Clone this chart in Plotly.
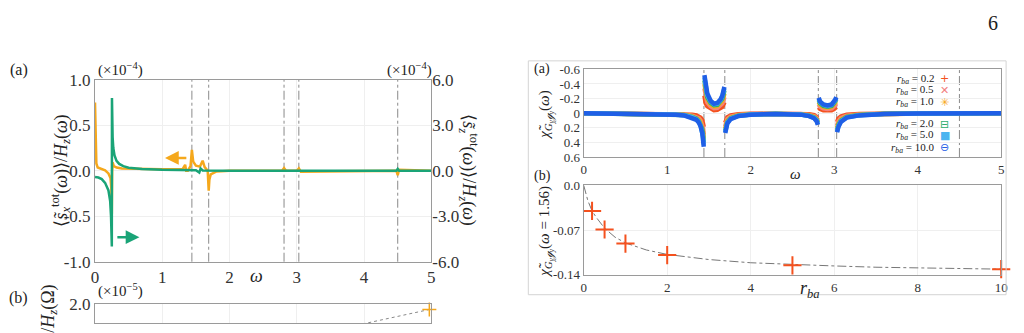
import plotly.graph_objects as go

# ---------------- data ----------------
# Left panel (a): spin response, left axis (x1e-4)
omega_orange = [0, 0.005, 0.01, 0.02, 0.04, 0.08, 0.15, 0.2, 0.23, 0.243, 0.25, 0.255, 0.262, 0.28,
                0.32, 0.4, 0.6, 1.0, 1.3, 1.34, 1.355, 1.38, 1.42, 1.44, 1.46, 1.5, 1.56, 1.6, 1.63,
                1.675, 1.69, 1.70, 1.72, 1.8, 2.0, 2.78, 2.81, 2.84, 3.0, 3.03, 3.06, 4.48, 4.5, 4.52, 5.0]
sx_orange = [0.75, 0.5, 0.25, 0.08, 0.035, 0.025, 0.005, -0.03, -0.08, -0.2, -0.48, 0.0, 0.09, 0.05,
             0.035, 0.025, 0.02, 0.015, 0.015, 0.065, 0.0, 0.0, 0.05, 0.23, 0.1, 0.055, 0.045, 0.11,
             0.04, 0.0, -0.22, -0.1, -0.04, -0.01, 0.0, 0.0, 0.03, 0.0, 0.0, 0.025, -0.01, 0.0, -0.05, 0.01, 0.0]
# right axis (x1e-4)
omega_green = [0, 0.05, 0.1, 0.15, 0.2, 0.225, 0.238, 0.245, 0.25, 0.252, 0.256, 0.262, 0.272, 0.29,
               0.32, 0.36, 0.42, 0.5, 0.7, 1.0, 1.5, 1.55, 1.57, 1.6, 2.0, 4.48, 4.5, 4.52, 5.0]
sz_green = [-0.42, -0.45, -0.55, -0.8, -1.3, -2.0, -3.0, -4.0, -5.0, 4.8, 3.2, 2.2, 1.5, 1.0,
            0.65, 0.45, 0.3, 0.2, 0.12, 0.06, 0.03, -0.12, 0.15, 0.02, 0.0, 0.0, 0.12, 0.0, 0.0]
resonances = [1.44, 1.69, 2.81, 3.03, 4.5]

# Left panel (b): only the top edge is visible
omega_b = [3.8, 4.2, 4.6, 4.97]
val_b = [1.50, 1.63, 1.76, 1.88]

# Right panel (a): chi(omega) for several r_ba
omega_r = [0, 0.2, 0.4, 0.6, 0.8, 1.0, 1.1, 1.2, 1.3, 1.35, 1.38, 1.40, 1.42, 1.43, 1.438, None,
           1.446, 1.46, 1.48, 1.52, 1.56, 1.60, 1.64, 1.66, 1.675, 1.685, None,
           1.695, 1.705, 1.72, 1.76, 1.85, 2.0, 2.3, 2.6, 2.7, 2.76, 2.79, 2.805, None,
           2.815, 2.83, 2.87, 2.92, 2.97, 3.0, 3.015, 3.025, None,
           3.035, 3.05, 3.08, 3.15, 3.3, 3.6, 4.0, 4.5, 5.0]
chi_r02 = [0, 0.001, 0.001, 0.002, 0.003, 0.005, 0.007, 0.01, 0.02, 0.03, 0.043, 0.062, 0.095, 0.13, 0.19, None,
           -0.24, -0.14, -0.095, -0.058, -0.04, -0.045, -0.065, -0.085, -0.12, -0.15, None,
           0.13, 0.085, 0.055, 0.03, 0.015, 0.007, 0.004, 0.007, 0.015, 0.026, 0.042, 0.065, None,
           -0.08, -0.058, -0.042, -0.036, -0.042, -0.058, -0.072, -0.085, None,
           0.12, 0.075, 0.045, 0.022, 0.011, 0.004, 0.002, 0.001, 0]
chi_r05 = [0, 0.001, 0.002, 0.003, 0.005, 0.008, 0.011, 0.017, 0.034, 0.05, 0.07, 0.1, 0.15, 0.21, 0.29, None,
           -0.34, -0.22, -0.15, -0.095, -0.069, -0.074, -0.105, -0.135, -0.18, -0.22, None,
           0.18, 0.12, 0.08, 0.046, 0.023, 0.011, 0.006, 0.011, 0.023, 0.04, 0.065, 0.095, None,
           -0.12, -0.09, -0.066, -0.057, -0.066, -0.09, -0.11, -0.13, None,
           0.17, 0.11, 0.068, 0.034, 0.017, 0.006, 0.003, 0.001, 0]
chi_r10 = [0, 0.001, 0.003, 0.004, 0.007, 0.01, 0.014, 0.021, 0.042, 0.063, 0.09, 0.13, 0.19, 0.26, 0.35, None,
           -0.40, -0.27, -0.19, -0.12, -0.091, -0.097, -0.135, -0.17, -0.22, -0.27, None,
           0.21, 0.15, 0.1, 0.058, 0.029, 0.014, 0.007, 0.014, 0.029, 0.05, 0.08, 0.115, None,
           -0.15, -0.115, -0.085, -0.074, -0.085, -0.115, -0.14, -0.16, None,
           0.2, 0.14, 0.085, 0.043, 0.021, 0.007, 0.003, 0.001, 0]
chi_r20 = [0, 0.002, 0.003, 0.005, 0.008, 0.012, 0.017, 0.025, 0.05, 0.075, 0.11, 0.15, 0.22, 0.3, 0.4, None,
           -0.45, -0.31, -0.22, -0.14, -0.109, -0.115, -0.16, -0.2, -0.26, -0.31, None,
           0.24, 0.17, 0.12, 0.068, 0.034, 0.017, 0.009, 0.017, 0.034, 0.06, 0.09, 0.13, None,
           -0.18, -0.135, -0.1, -0.088, -0.1, -0.135, -0.165, -0.19, None,
           0.23, 0.16, 0.1, 0.05, 0.025, 0.009, 0.004, 0.002, 0]
chi_r50 = [0, 0.002, 0.004, 0.006, 0.009, 0.014, 0.019, 0.028, 0.055, 0.085, 0.12, 0.17, 0.25, 0.33, 0.43, None,
           -0.49, -0.35, -0.25, -0.16, -0.125, -0.13, -0.18, -0.23, -0.29, -0.34, None,
           0.26, 0.19, 0.13, 0.075, 0.038, 0.019, 0.01, 0.019, 0.038, 0.066, 0.1, 0.15, None,
           -0.2, -0.15, -0.115, -0.1, -0.115, -0.15, -0.18, -0.21, None,
           0.25, 0.18, 0.11, 0.057, 0.028, 0.01, 0.005, 0.002, 0]
chi_r100 = [0, 0.002, 0.004, 0.006, 0.01, 0.015, 0.02, 0.03, 0.06, 0.09, 0.13, 0.18, 0.27, 0.35, 0.46, None,
            -0.52, -0.37, -0.27, -0.17, -0.13, -0.14, -0.19, -0.24, -0.30, -0.36, None,
            0.27, 0.2, 0.14, 0.08, 0.04, 0.02, 0.01, 0.02, 0.04, 0.07, 0.11, 0.16, None,
            -0.21, -0.16, -0.12, -0.105, -0.12, -0.16, -0.19, -0.22, None,
            0.26, 0.19, 0.12, 0.06, 0.03, 0.01, 0.005, 0.002, 0]
r_labels = ["0.2", "0.5", "1.0", "2.0", "5.0", "10.0"]

# Right panel (b)
r_ba = [0.2, 0.5, 1.0, 2.0, 5.0, 10.0]
chi_156 = [-0.040, -0.069, -0.091, -0.109, -0.125, -0.131]
r_fit = [0, 0.05, 0.1, 0.2, 0.3, 0.5, 0.75, 1.0, 1.5, 2.0, 3.0, 4.0, 5.0, 6.0, 7.0, 8.0, 9.0, 10.0]
chi_fit = [0, -0.014, -0.024, -0.040, -0.050, -0.067, -0.081, -0.090, -0.101, -0.108, -0.116,
           -0.121, -0.124, -0.126, -0.128, -0.129, -0.130, -0.131]

# ---------------- styling ----------------
W, H = 1024, 333
SERIF = "Liberation Serif"
ORANGE = "#F5A81C"
GREEN = "#1AA477"
series_colors = ["#F4511E", "#F28080", "#F7A823", "#2EAE6E", "#4CB5F0", "#1F5FE6"]
legend_glyphs = ["+", "✕", "✳", "⊟", "■", "⊖"]
GRID = "#efefef"
AXLINE = "#9a9a9a"


def px(x, y):
    return x / W, 1 - y / H


fig = go.Figure()

# Left (a)
fig.add_trace(go.Scatter(x=omega_orange, y=sx_orange, mode="lines", line=dict(color=ORANGE, width=2.5),
                         xaxis="x", yaxis="y", showlegend=False))
fig.add_trace(go.Scatter(x=omega_green, y=sz_green, mode="lines", line=dict(color=GREEN, width=2.5),
                         xaxis="x", yaxis="y2", showlegend=False))
# Left (b)
fig.add_trace(go.Scatter(x=omega_b, y=val_b, mode="lines", line=dict(color="#888", width=1, dash="dot"),
                         xaxis="x2", yaxis="y3", showlegend=False))
fig.add_trace(go.Scatter(x=omega_b[-1:], y=val_b[-1:], mode="markers",
                         marker=dict(symbol="cross-thin-open", size=10, color=ORANGE,
                                     line=dict(color=ORANGE, width=1.5)),
                         xaxis="x2", yaxis="y3", showlegend=False, cliponaxis=False))

# Right (a)
for vals, col in zip([chi_r02, chi_r05, chi_r10, chi_r20, chi_r50, chi_r100], series_colors):
    fig.add_trace(go.Scatter(x=omega_r, y=vals, mode="lines", connectgaps=False,
                             line=dict(color=col, width=4.5),
                             xaxis="x3", yaxis="y4", showlegend=False))

# Right (b)
fig.add_trace(go.Scatter(x=r_fit, y=chi_fit, mode="lines", line=dict(color="#777", width=1, dash="dashdot"),
                         xaxis="x4", yaxis="y5", showlegend=False))
fig.add_trace(go.Scatter(x=r_ba, y=chi_156, mode="markers",
                         marker=dict(symbol="cross-thin-open", size=13, color="#F4511E",
                                     line=dict(color="#F4511E", width=2)),
                         xaxis="x4", yaxis="y5", showlegend=False, cliponaxis=False))

left_x = [92 / W, 432 / W]
right_x = [586 / W, 1008 / W]
tf_big = dict(family=SERIF, size=17, color="#333")
tf_small = dict(family=SERIF, size=13, color="#333")
common = dict(showline=True, linecolor=AXLINE, linewidth=1, mirror=True, gridcolor=GRID, zeroline=False,
              ticks="")

fig.update_layout(
    width=W, height=H, margin=dict(l=0, r=0, t=0, b=0),
    paper_bgcolor="white", plot_bgcolor="white",
    font=dict(family=SERIF, color="#222"),
    showlegend=False,
    xaxis=dict(domain=left_x, anchor="y", range=[0, 5], tickvals=[0, 1, 2, 3, 4, 5],
               tickfont=tf_big, showgrid=True, **common),
    yaxis=dict(domain=[1 - 268 / H, 1 - 75 / H], anchor="x", range=[-1, 1],
               tickvals=[-1, -0.5, 0, 0.5, 1], ticktext=["-1.0", "-0.5", "0.0", "0.5", "1.0"],
               tickfont=tf_big, showgrid=True, **common),
    yaxis2=dict(overlaying="y", side="right", anchor="x", range=[-6, 6], showgrid=False, zeroline=False,
                tickvals=[-6, -3, 0, 3, 6], ticktext=["-6.0", "-3.0", "0.0", "3.0", "6.0"],
                tickfont=tf_big, ticks=""),
    xaxis2=dict(domain=left_x, anchor="y3", range=[0, 5], showticklabels=False, showgrid=True, **common),
    yaxis3=dict(domain=[0, 1 - 313 / H], anchor="x2", range=[1.58, 2.0], tickvals=[2.0], ticktext=["2.0"],
                tickfont=tf_big, showgrid=False, **common),
    xaxis3=dict(domain=right_x, anchor="y4", range=[0, 5], tickvals=[0, 1, 2, 3, 4, 5],
                tickfont=tf_small, showgrid=True, **common),
    yaxis4=dict(domain=[1 - 157 / H, 1 - 64 / H], anchor="x3", range=[0.6, -0.6],
                tickvals=[-0.6, -0.4, -0.2, 0, 0.2, 0.4, 0.6],
                ticktext=["-0.6", "-0.4", "-0.2", "0", "0.2", "0.4", "0.6"], tickfont=tf_small,
                showgrid=True, **common),
    xaxis4=dict(domain=right_x, anchor="y5", range=[0, 10], tickvals=[0, 2, 4, 6, 8, 10],
                tickfont=tf_small, showgrid=True, **common),
    yaxis5=dict(domain=[1 - 282 / H, 1 - 187 / H], anchor="x4", range=[-0.14, 0],
                tickvals=[-0.14, -0.07, 0], ticktext=["-0.14", "-0.07", "0.0"], tickfont=tf_small,
                showgrid=True, **common),
)

# resonance lines
for w in resonances:
    fig.add_shape(type="line", xref="x", yref="y domain", x0=w, x1=w, y0=0, y1=1,
                  line=dict(color="#8a8a8a", width=1, dash="dashdot"), layer="below")
    fig.add_shape(type="line", xref="x3", yref="y4 domain", x0=w, x1=w, y0=0, y1=1,
                  line=dict(color="#8a8a8a", width=1, dash="dashdot"), layer="below")

# frame around right figure
x0, y1 = px(530, 55)
x1, y0 = px(1013, 303)
fig.add_shape(type="rect", xref="paper", yref="paper", x0=x0, x1=x1, y0=y0, y1=y1,
              line=dict(color="#d4d4d4", width=1))

# arrows
fig.add_annotation(x=1.04, y=0.14, ax=1.38, ay=0.14, xref="x", yref="y", axref="x", ayref="y",
                   text="", showarrow=True, arrowhead=2, arrowsize=1.1, arrowwidth=2.5, arrowcolor=ORANGE)
fig.add_annotation(x=0.66, y=-0.73, ax=0.31, ay=-0.73, xref="x", yref="y", axref="x", ayref="y",
                   text="", showarrow=True, arrowhead=2, arrowsize=1.1, arrowwidth=2.5, arrowcolor=GREEN)


def text(x, y, t, size=14, angle=0, xanchor="center", yanchor="middle", color="#222", family=SERIF):
    xp, yp = px(x, y)
    fig.add_annotation(x=xp, y=yp, xref="paper", yref="paper", text=t, showarrow=False,
                       textangle=angle, xanchor=xanchor, yanchor=yanchor,
                       font=dict(family=family, size=size, color=color))


text(1000, 15, "6", size=20)
text(15, 65, "(a)", size=16)
text(118, 64, "(×10<sup>−4</sup>)", size=15)
text(410, 64, "(×10<sup>−4</sup>)", size=15)
text(255, 283, "<i>ω</i>", size=18)
text(57, 171, "⟨<i>s̃</i><sub><i>x</i></sub><sup>tot</sup>(<i>ω</i>)⟩/<i>H</i><sub><i>z</i></sub>(<i>ω</i>)",
     size=18, angle=-90)
text(470, 171, "⟨<i>s̃</i><sub><i>z</i></sub><sup>tot</sup>(<i>ω</i>)⟩/<i>H</i><sub><i>z</i></sub>(<i>ω</i>)",
     size=18, angle=90)
text(15, 307, "(b)", size=16)
text(118, 299, "(×10<sup>−5</sup>)", size=15)
text(44, 290, "⟨<i>s̃</i><sub><i>x</i></sub><sup>tot</sup>(Ω)⟩/<i>H</i><sub><i>z</i></sub>(Ω)", size=18, angle=-90,
     yanchor="top")

# right figure labels
text(544, 64, "(a)", size=14)
text(544, 177, "(b)", size=14)
text(800, 175, "<i>ω</i>", size=15)
text(815, 297, "<i>r<sub>ba</sub></i>", size=18)
text(548, 113, "<i>χ̃</i><sub><i>G</i><sub><i>y</i></sub><i>ℊ</i><sub><i>y</i></sub></sub>(<i>ω</i>)", size=15,
     angle=-90)
text(548, 236, "<i>χ̃</i><sub><i>G</i><sub><i>y</i></sub><i>ℊ</i><sub><i>y</i></sub></sub>(<i>ω</i> = 1.56)",
     size=15, angle=-90)

# legend (text + glyph)
legend_rows = [74, 86, 99, 122, 134, 147]
for lab, glyph, col, yy in zip(r_labels, legend_glyphs, series_colors, legend_rows):
    text(942, yy, "<i>r</i><sub><i>ba</i></sub> = " + lab, size=11, xanchor="right")
    text(951, yy, glyph, size=11, color=col, family="DejaVu Sans")

fig.write_html("out.html")
